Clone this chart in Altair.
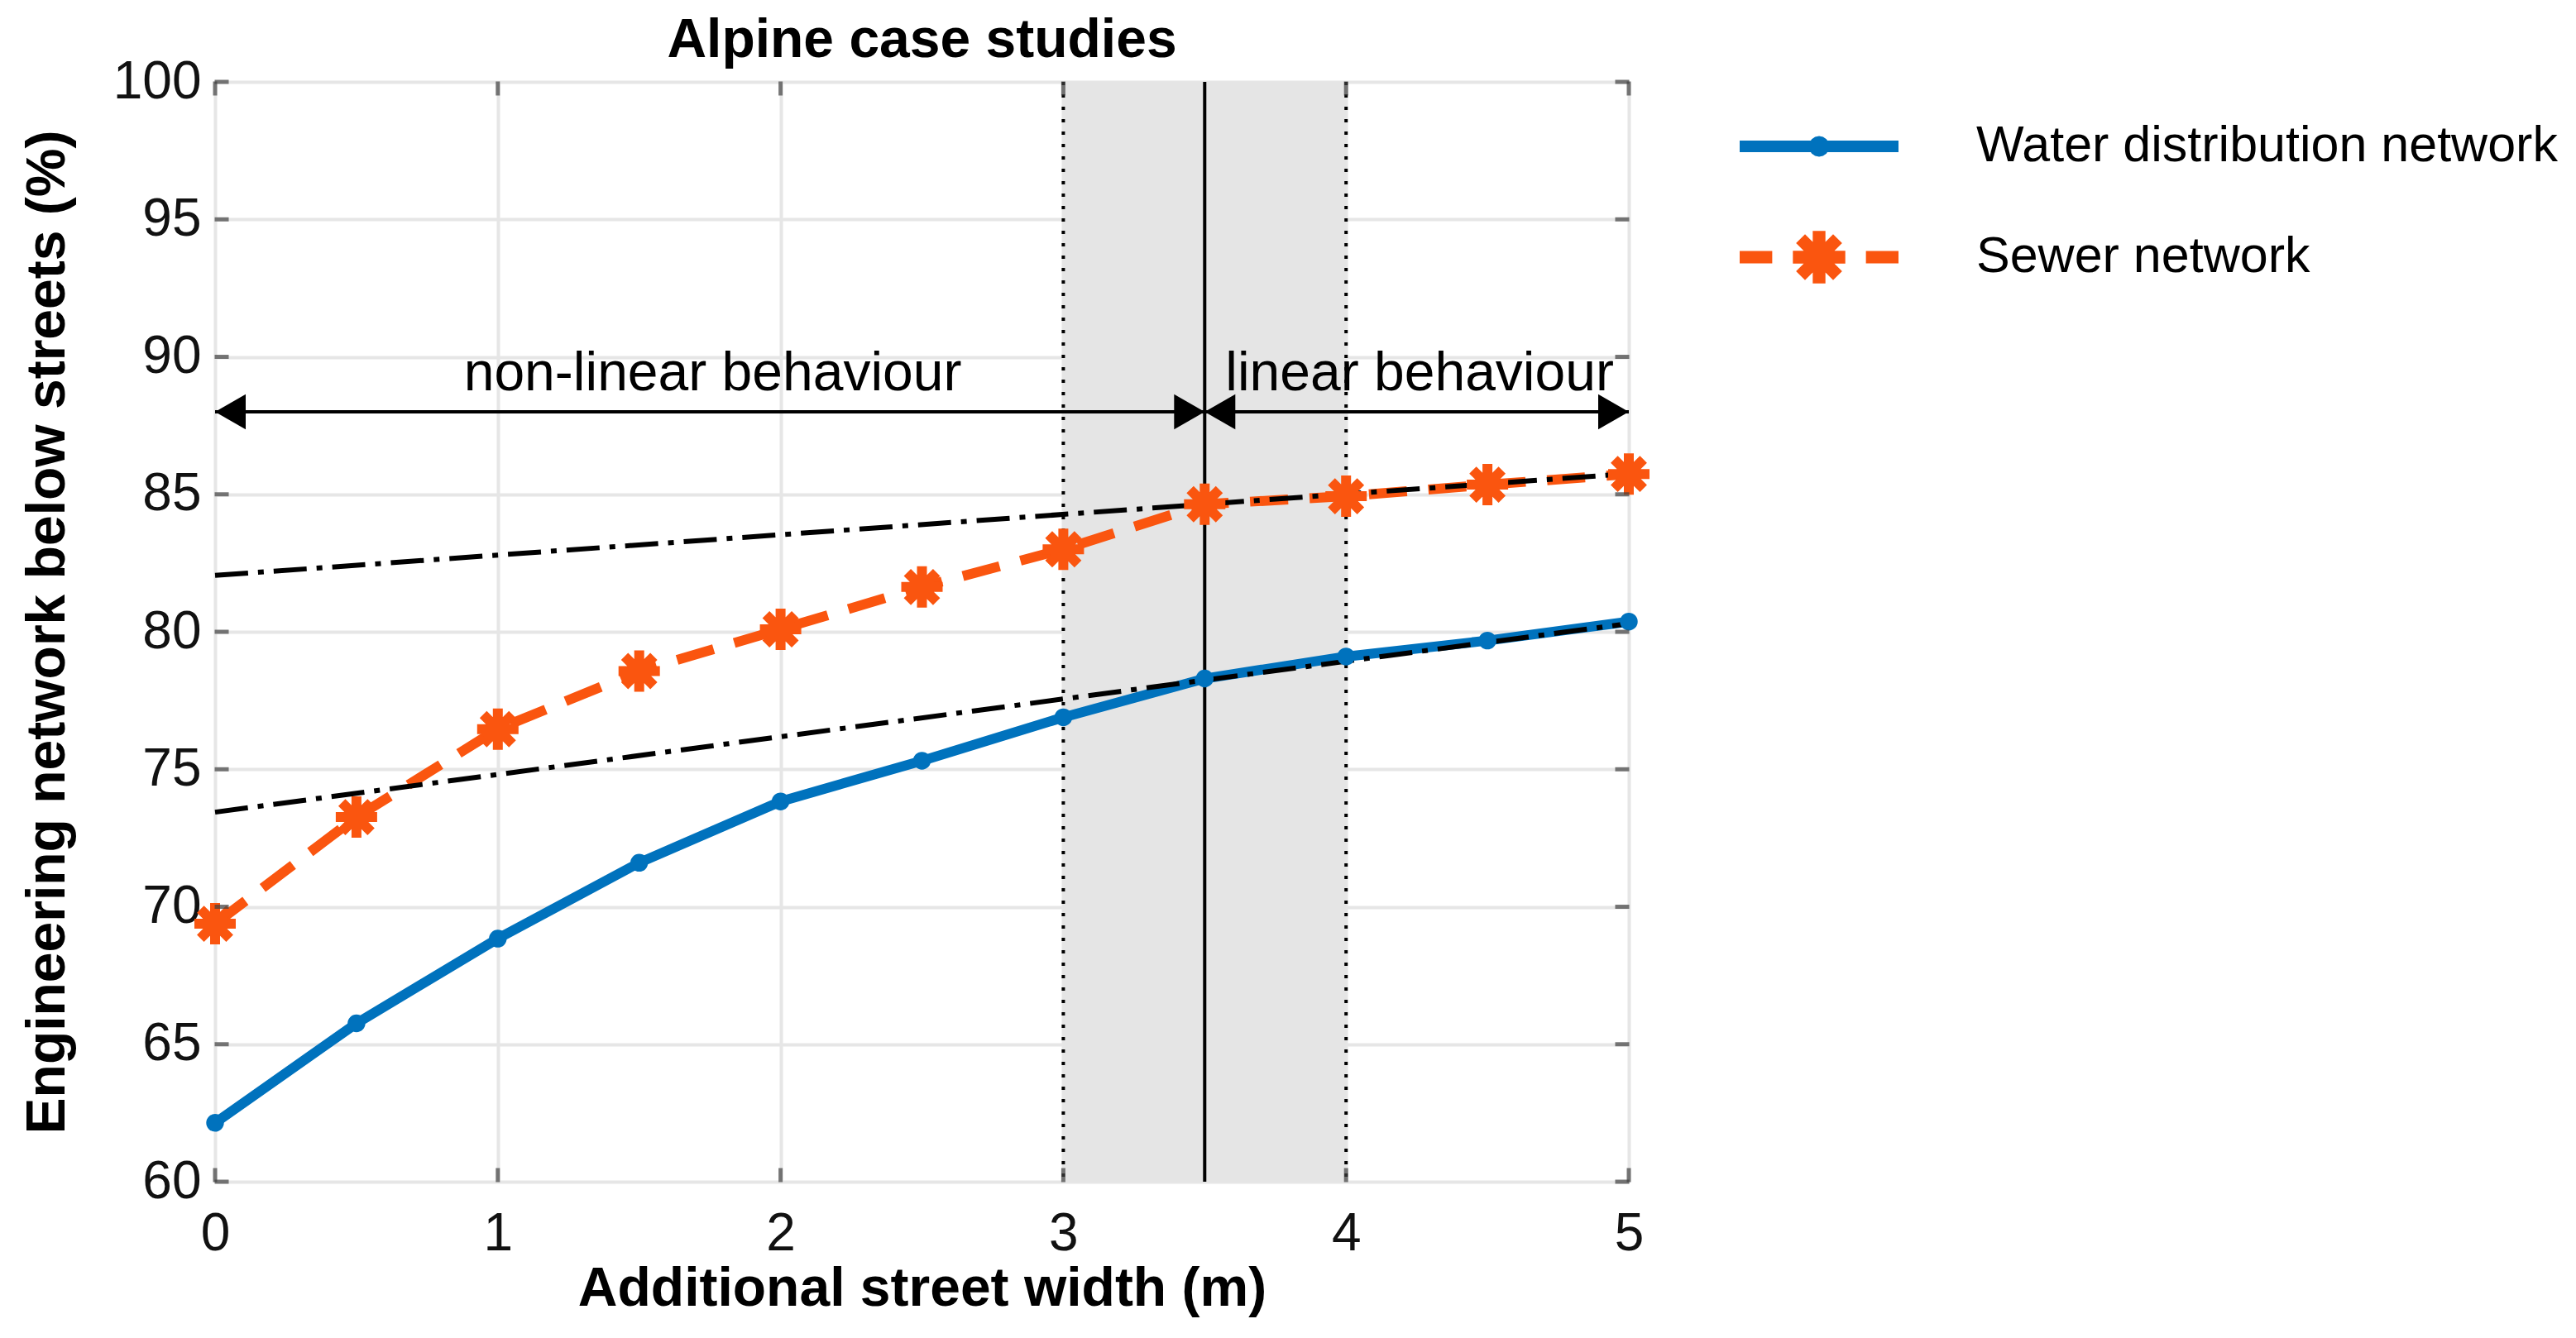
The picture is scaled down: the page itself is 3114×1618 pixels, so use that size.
import math
import altair as alt
import pandas as pd

# ---------------- data ----------------
street_width = [0, 0.5, 1, 1.5, 2, 2.5, 3, 3.5, 4, 4.5, 5]
water = [62.14, 65.76, 68.84, 71.60, 73.83, 75.31, 76.89, 78.30, 79.10, 79.68, 80.37]
sewer = [69.38, 73.26, 76.46, 78.57, 80.09, 81.63, 83.00, 84.64, 84.93, 85.35, 85.74]

trend_x = [0, 5]
water_trend = [73.44, 80.30]
sewer_trend = [82.05, 85.75]

band = [3, 4]            # shaded transition zone
split = [3.5]            # solid separator
arrow_y = [88]
arrow_segments = [(0, 3.5), (3.5, 5)]
annotations = ["non-linear behaviour", "linear behaviour"]
annot_x = [1.76, 4.26]
annot_y = [88.78, 88.78]

series_names = ["Water distribution network", "Sewer network"]
x_ticks = [0, 1, 2, 3, 4, 5]
y_ticks = [60, 65, 70, 75, 80, 85, 90, 95, 100]
x_domain = [0, 5]
y_domain = [60, 100]

BLUE = "#0072BD"
ORANGE = "#FA550F"
FONT = "Liberation Sans"
BOX = "#404040"


# ---------------- marker / legend shapes (unit space) ----------------
def rect(x0, x1, y0, y1):
    return f"M{x0:.3f},{y0:.3f}L{x1:.3f},{y0:.3f}L{x1:.3f},{y1:.3f}L{x0:.3f},{y1:.3f}Z"


def rot_rect(L, w, ang, cx=0.0, cy=0.0):
    c, s = math.cos(ang), math.sin(ang)
    pts = [(-L, -w), (L, -w), (L, w), (-L, w)]
    out = []
    for i, (px, py) in enumerate(pts):
        X = cx + px * c - py * s
        Y = cy + px * s + py * c
        out.append(("M" if i == 0 else "L") + f"{X:.3f},{Y:.3f}")
    return "".join(out) + "Z"


def poly_circle(r, n=16, cx=0.0, cy=0.0):
    out = []
    for i in range(n):
        a = 2 * math.pi * i / n
        out.append(("M" if i == 0 else "L") + f"{cx + r*math.cos(a):.3f},{cy + r*math.sin(a):.3f}")
    return "".join(out) + "Z"


def asterisk(L, w):
    return "".join(rot_rect(L, w, k * math.pi / 4) for k in range(4)) + poly_circle(L * 0.62)


asterisk_marker = asterisk(1.0, 0.24)
legend_water = rect(-1, 1, -0.072, 0.072) + poly_circle(0.13)
legend_sewer = rect(-1, -0.59, -0.078, 0.078) + rect(0.59, 1, -0.078, 0.078) + asterisk(0.33, 0.08)
head_left = "M0,0L2,-1.15L2,1.15Z"
head_right = "M0,0L-2,-1.15L-2,1.15Z"

# ---------------- tables ----------------
df = pd.DataFrame({"w": street_width, "water": water, "sewer": sewer})
trend = pd.DataFrame({"w": trend_x, "water": water_trend, "sewer": sewer_trend})
band_df = pd.DataFrame({"x0": [band[0]], "x1": [band[1]], "y0": [y_domain[0]], "y1": [y_domain[1]]})
dotted_df = pd.DataFrame({"x": band})
split_df = pd.DataFrame({"x": split})
arrows_df = pd.DataFrame({"x0": [a for a, b in arrow_segments],
                          "x1": [b for a, b in arrow_segments],
                          "y": arrow_y * len(arrow_segments)})
heads_l = pd.DataFrame({"x": [a for a, b in arrow_segments], "y": arrow_y * len(arrow_segments)})
heads_r = pd.DataFrame({"x": [b for a, b in arrow_segments], "y": arrow_y * len(arrow_segments)})
text_df = pd.DataFrame({"t": annotations, "x": annot_x, "y": annot_y})
legend_df = pd.DataFrame({"series": series_names, "w": [None, None], "v": [None, None]})
xt_df = pd.DataFrame({"x": x_ticks})
yt_df = pd.DataFrame({"y": y_ticks})

xs = alt.Scale(domain=x_domain, nice=False, zero=False)
ys = alt.Scale(domain=y_domain, nice=False, zero=False)

X_AXIS = alt.Axis(values=x_ticks, format="d", grid=True, gridColor="#e6e6e6", gridWidth=4,
                  domain=False, ticks=False, labelFontSize=64, labelFont=FONT,
                  labelColor="#111111", labelPadding=31, title="Additional street width (m)",
                  titleFontSize=66, titleFont=FONT, titleFontWeight="bold",
                  titleColor="#000000", titlePadding=2, labelFlush=False)
Y_AXIS = alt.Axis(values=y_ticks, format="d", grid=True, gridColor="#e6e6e6", gridWidth=4,
                  domain=False, ticks=False, labelFontSize=64, labelFont=FONT,
                  labelColor="#111111", labelPadding=17,
                  title="Engineering network below streets (%)",
                  titleFontSize=66, titleFont=FONT, titleFontWeight="bold",
                  titleColor="#000000", titlePadding=45, labelFlush=False)

shade = alt.Chart(band_df).mark_rect(color="#e5e5e5").encode(
    x=alt.X("x0:Q", scale=xs, axis=X_AXIS), x2="x1:Q",
    y=alt.Y("y0:Q", scale=ys, axis=Y_AXIS), y2="y1:Q")

dotted = alt.Chart(dotted_df).mark_rule(color="black", strokeWidth=4, strokeDash=[4, 11]).encode(
    x=alt.X("x:Q", scale=xs))
solid = alt.Chart(split_df).mark_rule(color="black", strokeWidth=4).encode(
    x=alt.X("x:Q", scale=xs))

water_line = alt.Chart(df).mark_line(color=BLUE, strokeWidth=12).encode(
    x=alt.X("w:Q", scale=xs), y=alt.Y("water:Q", scale=ys))
sewer_line = alt.Chart(df).mark_line(color=ORANGE, strokeWidth=12, strokeDash=[46, 26]).encode(
    x=alt.X("w:Q", scale=xs), y=alt.Y("sewer:Q", scale=ys))

water_trend_line = alt.Chart(trend).mark_line(color="black", strokeWidth=6,
                                              strokeDash=[40, 12, 7, 12]).encode(
    x=alt.X("w:Q", scale=xs), y=alt.Y("water:Q", scale=ys))
sewer_trend_line = alt.Chart(trend).mark_line(color="black", strokeWidth=6,
                                              strokeDash=[40, 12, 7, 12]).encode(
    x=alt.X("w:Q", scale=xs), y=alt.Y("sewer:Q", scale=ys))

water_pts = alt.Chart(df).mark_point(shape="circle", filled=True, color=BLUE, size=460, opacity=1).encode(
    x=alt.X("w:Q", scale=xs), y=alt.Y("water:Q", scale=ys))
sewer_pts = alt.Chart(df).mark_point(shape=asterisk_marker, filled=True, color=ORANGE, size=2500,
                                     opacity=1).encode(
    x=alt.X("w:Q", scale=xs), y=alt.Y("sewer:Q", scale=ys))

arrow_lines = alt.Chart(arrows_df).mark_rule(color="black", strokeWidth=4).encode(
    x=alt.X("x0:Q", scale=xs), x2="x1:Q", y=alt.Y("y:Q", scale=ys))
arrow_l = alt.Chart(heads_l).mark_point(shape=head_left, filled=True, color="black", size=1369,
                                        opacity=1).encode(
    x=alt.X("x:Q", scale=xs), y=alt.Y("y:Q", scale=ys))
arrow_r = alt.Chart(heads_r).mark_point(shape=head_right, filled=True, color="black", size=1369,
                                        opacity=1).encode(
    x=alt.X("x:Q", scale=xs), y=alt.Y("y:Q", scale=ys))

texts = alt.Chart(text_df).mark_text(font=FONT, fontSize=66, color="black", align="center",
                                     baseline="alphabetic").encode(
    x=alt.X("x:Q", scale=xs), y=alt.Y("y:Q", scale=ys), text="t:N")

# inward ticks (box style)
tick_style = dict(color=BOX, thickness=5, size=17)
xt_bottom = alt.Chart(xt_df).mark_tick(orient="vertical", yOffset=-8, **tick_style).encode(
    x=alt.X("x:Q", scale=xs), y=alt.datum(y_domain[0], scale=ys))
xt_top = alt.Chart(xt_df).mark_tick(orient="vertical", yOffset=8, **tick_style).encode(
    x=alt.X("x:Q", scale=xs), y=alt.datum(y_domain[1], scale=ys))
yt_left = alt.Chart(yt_df).mark_tick(orient="horizontal", xOffset=8, **tick_style).encode(
    y=alt.Y("y:Q", scale=ys), x=alt.datum(x_domain[0], scale=xs))
yt_right = alt.Chart(yt_df).mark_tick(orient="horizontal", xOffset=-8, **tick_style).encode(
    y=alt.Y("y:Q", scale=ys), x=alt.datum(x_domain[1], scale=xs))

legend_layer = alt.Chart(legend_df).mark_point(filled=True, opacity=1).encode(
    x=alt.X("w:Q", scale=xs), y=alt.Y("v:Q", scale=ys),
    color=alt.Color("series:N", scale=alt.Scale(domain=series_names, range=[BLUE, ORANGE]),
                    legend=alt.Legend(title=None, orient="none", legendX=1843, legendY=-18,
                                      symbolSize=36864, symbolStrokeWidth=0,
                                      labelFont=FONT, labelFontSize=61, labelColor="#000000",
                                      labelOffset=94, rowPadding=8, padding=0,
                                      labelLimit=2000)),
    shape=alt.Shape("series:N", scale=alt.Scale(domain=series_names,
                                                range=[legend_water, legend_sewer])),
)

chart = alt.layer(
    shade, dotted, solid,
    water_line, sewer_line, water_trend_line, sewer_trend_line,
    water_pts, sewer_pts,
    arrow_lines, arrow_l, arrow_r, texts,
    xt_bottom, xt_top, yt_left, yt_right,
    legend_layer,
).properties(
    width=1709, height=1330,
    title=alt.TitleParams("Alpine case studies", font=FONT, fontSize=66, fontWeight="bold",
                          color="#000000", offset=-16, anchor="middle"),
    autosize=alt.AutoSizeParams(type="none"),
    padding={"left": 252, "top": 91, "right": 1130, "bottom": 170},
).configure_view(
    stroke=BOX, strokeWidth=5
).configure(background="white")

chart.save("out.html", embed_options={"renderer": "svg", "actions": False})
